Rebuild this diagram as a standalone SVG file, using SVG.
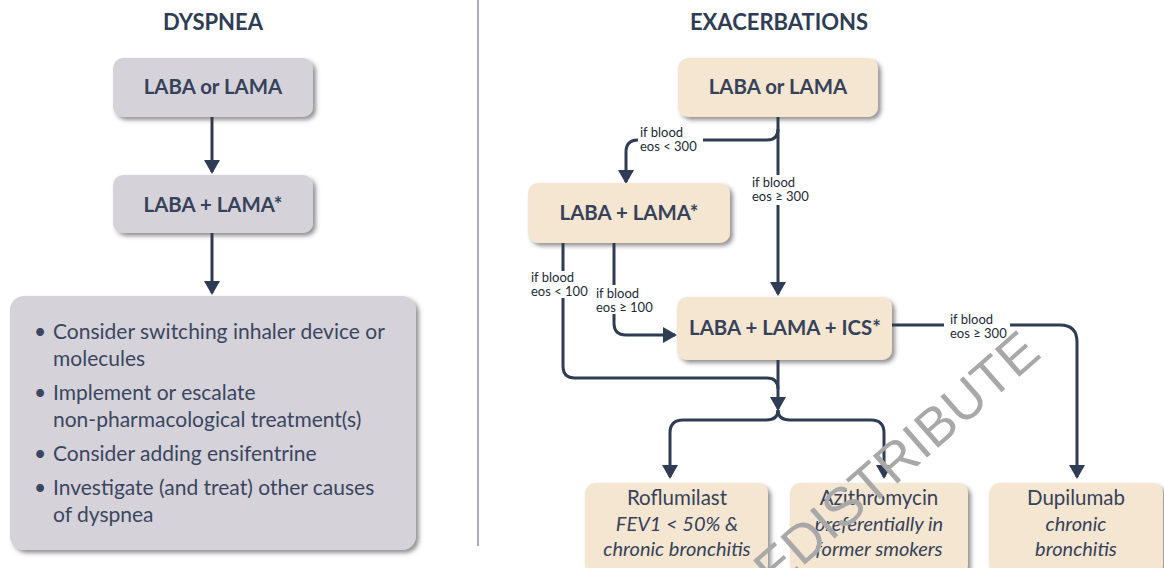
<svg xmlns="http://www.w3.org/2000/svg" width="1164" height="568" viewBox="0 0 1164 568">
  <defs>
    <filter id="shadow" x="-10%" y="-10%" width="125%" height="130%">
      <feDropShadow dx="3" dy="3" stdDeviation="2" flood-color="#3a3a3a" flood-opacity="0.55"/>
    </filter>
    <marker id="arrow" viewBox="0 0 14 16" refX="12" refY="8" markerWidth="14" markerHeight="16" markerUnits="userSpaceOnUse" orient="auto">
      <path d="M0,0 L14,8 L0,16 z" fill="#2e3d55"/>
    </marker>
    <style>
      .title { font-family: Lato, "Open Sans", "Liberation Sans", sans-serif; font-weight: 700; font-size: 22px; fill: #2f3d55; text-anchor: middle; }
      .box-gray { fill: #d5d2da; filter: url(#shadow); }
      .box-tan { fill: #f4e6d1; filter: url(#shadow); }
      .label { font-family: Lato, "Open Sans", "Liberation Sans", sans-serif; font-weight: 700; font-size: 20.4px; fill: #36425a; text-anchor: middle; }
      .bullet { font-family: Lato, "Open Sans", "Liberation Sans", sans-serif; font-size: 21px; fill: #3a4660; }
      .drug { font-family: Lato, "Open Sans", "Liberation Sans", sans-serif; font-size: 20.5px; fill: #36425a; text-anchor: middle; }
      .note { font-family: Lato, "Open Sans", "Liberation Sans", sans-serif; font-style: italic; font-size: 20px; fill: #36425a; text-anchor: middle; }
      .cond { font-family: Lato, "Open Sans", "Liberation Sans", sans-serif; font-size: 13px; fill: #222a36; }
      .wire { fill: none; stroke: #2e3d55; stroke-width: 3; }
      .wire-arrow { fill: none; stroke: #2e3d55; stroke-width: 3; marker-end: url(#arrow); }
      .watermark { font-family: "Liberation Sans", Arial, sans-serif; font-size: 54px; fill: #a8a8a8; }
    </style>
  </defs>

  <rect width="1164" height="568" fill="#ffffff"/>

  <!-- column headings and divider -->
  <text class="title" x="213" y="30">DYSPNEA</text>
  <text class="title" x="779" y="30">EXACERBATIONS</text>
  <line x1="478" y1="0" x2="478" y2="546" stroke="#8d91a0" stroke-width="1.5"/>

  <!-- connectors -->
  <g id="connectors">
    <!-- dyspnea pathway -->
    <path class="wire-arrow" d="M212 117 V172"/>
    <path class="wire-arrow" d="M212 233 V293"/>

    <!-- LABA or LAMA trunk, eos >= 300 -->
    <path class="wire" d="M778 117 V175"/>
    <path class="wire-arrow" d="M778 205 V294"/>
    <!-- eos < 300 branch -->
    <path class="wire" d="M703 140 H767 Q778 140 778 129"/>
    <path class="wire-arrow" d="M638 140 Q626 140 626 152 V182"/>

    <!-- LABA + LAMA: eos < 100 -->
    <path class="wire" d="M563 243 V271"/>
    <path class="wire" d="M563 298 V366 Q563 378 575 378 H767 Q778 378 778 389"/>
    <!-- LABA + LAMA: eos >= 100 -->
    <path class="wire" d="M614 243 V285"/>
    <path class="wire-arrow" d="M614 314 V323 Q614 335 626 335 H675"/>

    <!-- LABA + LAMA + ICS down to add-ons -->
    <path class="wire-arrow" d="M778 360 V409"/>
    <path class="wire-arrow" d="M778 410 Q778 420 766 420 H683 Q670 420 670 433 V477"/>
    <path class="wire-arrow" d="M778 410 Q778 420 790 420 H871 Q884 420 884 433 V477"/>

    <!-- eos >= 300 to Dupilumab -->
    <path class="wire" d="M892 325 H944"/>
    <path class="wire-arrow" d="M1010 325 H1060 Q1077 325 1077 342 V477"/>

    <!-- condition labels -->
    <text class="cond" x="640" y="137">if blood</text>
    <text class="cond" x="640" y="151">eos &lt; 300</text>
    <text class="cond" x="752" y="187">if blood</text>
    <text class="cond" x="752" y="201">eos ≥ 300</text>
    <text class="cond" x="531" y="282">if blood</text>
    <text class="cond" x="531" y="296">eos &lt; 100</text>
    <text class="cond" x="596" y="298">if blood</text>
    <text class="cond" x="596" y="312">eos ≥ 100</text>
    <text class="cond" x="950" y="324">if blood</text>
    <text class="cond" x="950" y="338">eos ≥ 300</text>
  </g>

  <!-- dyspnea nodes -->
  <g id="dysp-laba-or-lama">
    <rect class="box-gray" x="113" y="58" width="200" height="59" rx="10"/>
    <text class="label" x="213" y="94">LABA or LAMA</text>
  </g>
  <g id="dysp-laba-lama">
    <rect class="box-gray" x="113" y="175" width="200" height="58" rx="10"/>
    <text class="label" x="213" y="212">LABA + LAMA*</text>
  </g>
  <g id="dysp-options">
    <rect class="box-gray" x="10" y="296" width="406" height="254" rx="14"/>
    <text class="bullet" x="34" y="339">•</text>
    <text class="bullet" x="53" y="339">Consider switching inhaler device or</text>
    <text class="bullet" x="53" y="366">molecules</text>
    <text class="bullet" x="34" y="400">•</text>
    <text class="bullet" x="53" y="400">Implement or escalate</text>
    <text class="bullet" x="53" y="427">non-pharmacological treatment(s)</text>
    <text class="bullet" x="34" y="461">•</text>
    <text class="bullet" x="53" y="461">Consider adding ensifentrine</text>
    <text class="bullet" x="34" y="495">•</text>
    <text class="bullet" x="53" y="495">Investigate (and treat) other causes</text>
    <text class="bullet" x="53" y="522">of dyspnea</text>
  </g>

  <!-- exacerbation nodes -->
  <g id="exac-laba-or-lama">
    <rect class="box-tan" x="678" y="58" width="200" height="59" rx="10"/>
    <text class="label" x="778" y="94">LABA or LAMA</text>
  </g>
  <g id="exac-laba-lama">
    <rect class="box-tan" x="528" y="183" width="202" height="60" rx="10"/>
    <text class="label" x="629" y="220">LABA + LAMA*</text>
  </g>
  <g id="exac-laba-lama-ics">
    <rect class="box-tan" x="677" y="297" width="215" height="63" rx="10"/>
    <text class="label" x="785" y="335">LABA + LAMA + ICS*</text>
  </g>
  <g id="roflumilast">
    <rect class="box-tan" x="585" y="483" width="183" height="92" rx="10"/>
    <text class="drug" x="677" y="505">Roflumilast</text>
    <text class="note" x="677" y="531">FEV1 &lt; 50% &amp;</text>
    <text class="note" x="677" y="556">chronic bronchitis</text>
  </g>
  <g id="azithromycin">
    <rect class="box-tan" x="790" y="483" width="178" height="92" rx="10"/>
    <text class="drug" x="879" y="505">Azithromycin</text>
    <text class="note" x="879" y="531">preferentially in</text>
    <text class="note" x="879" y="556">former smokers</text>
  </g>
  <g id="dupilumab">
    <rect class="box-tan" x="989" y="483" width="174" height="92" rx="10"/>
    <text class="drug" x="1076" y="505">Dupilumab</text>
    <text class="note" x="1076" y="531">chronic</text>
    <text class="note" x="1076" y="556">bronchitis</text>
  </g>

  <!-- gray watermark lettering across the lower right -->
  <text class="watermark" x="0" y="0" text-anchor="end" transform="translate(1043 356) rotate(-41.2)">REDISTRIBUTE</text>
</svg>
